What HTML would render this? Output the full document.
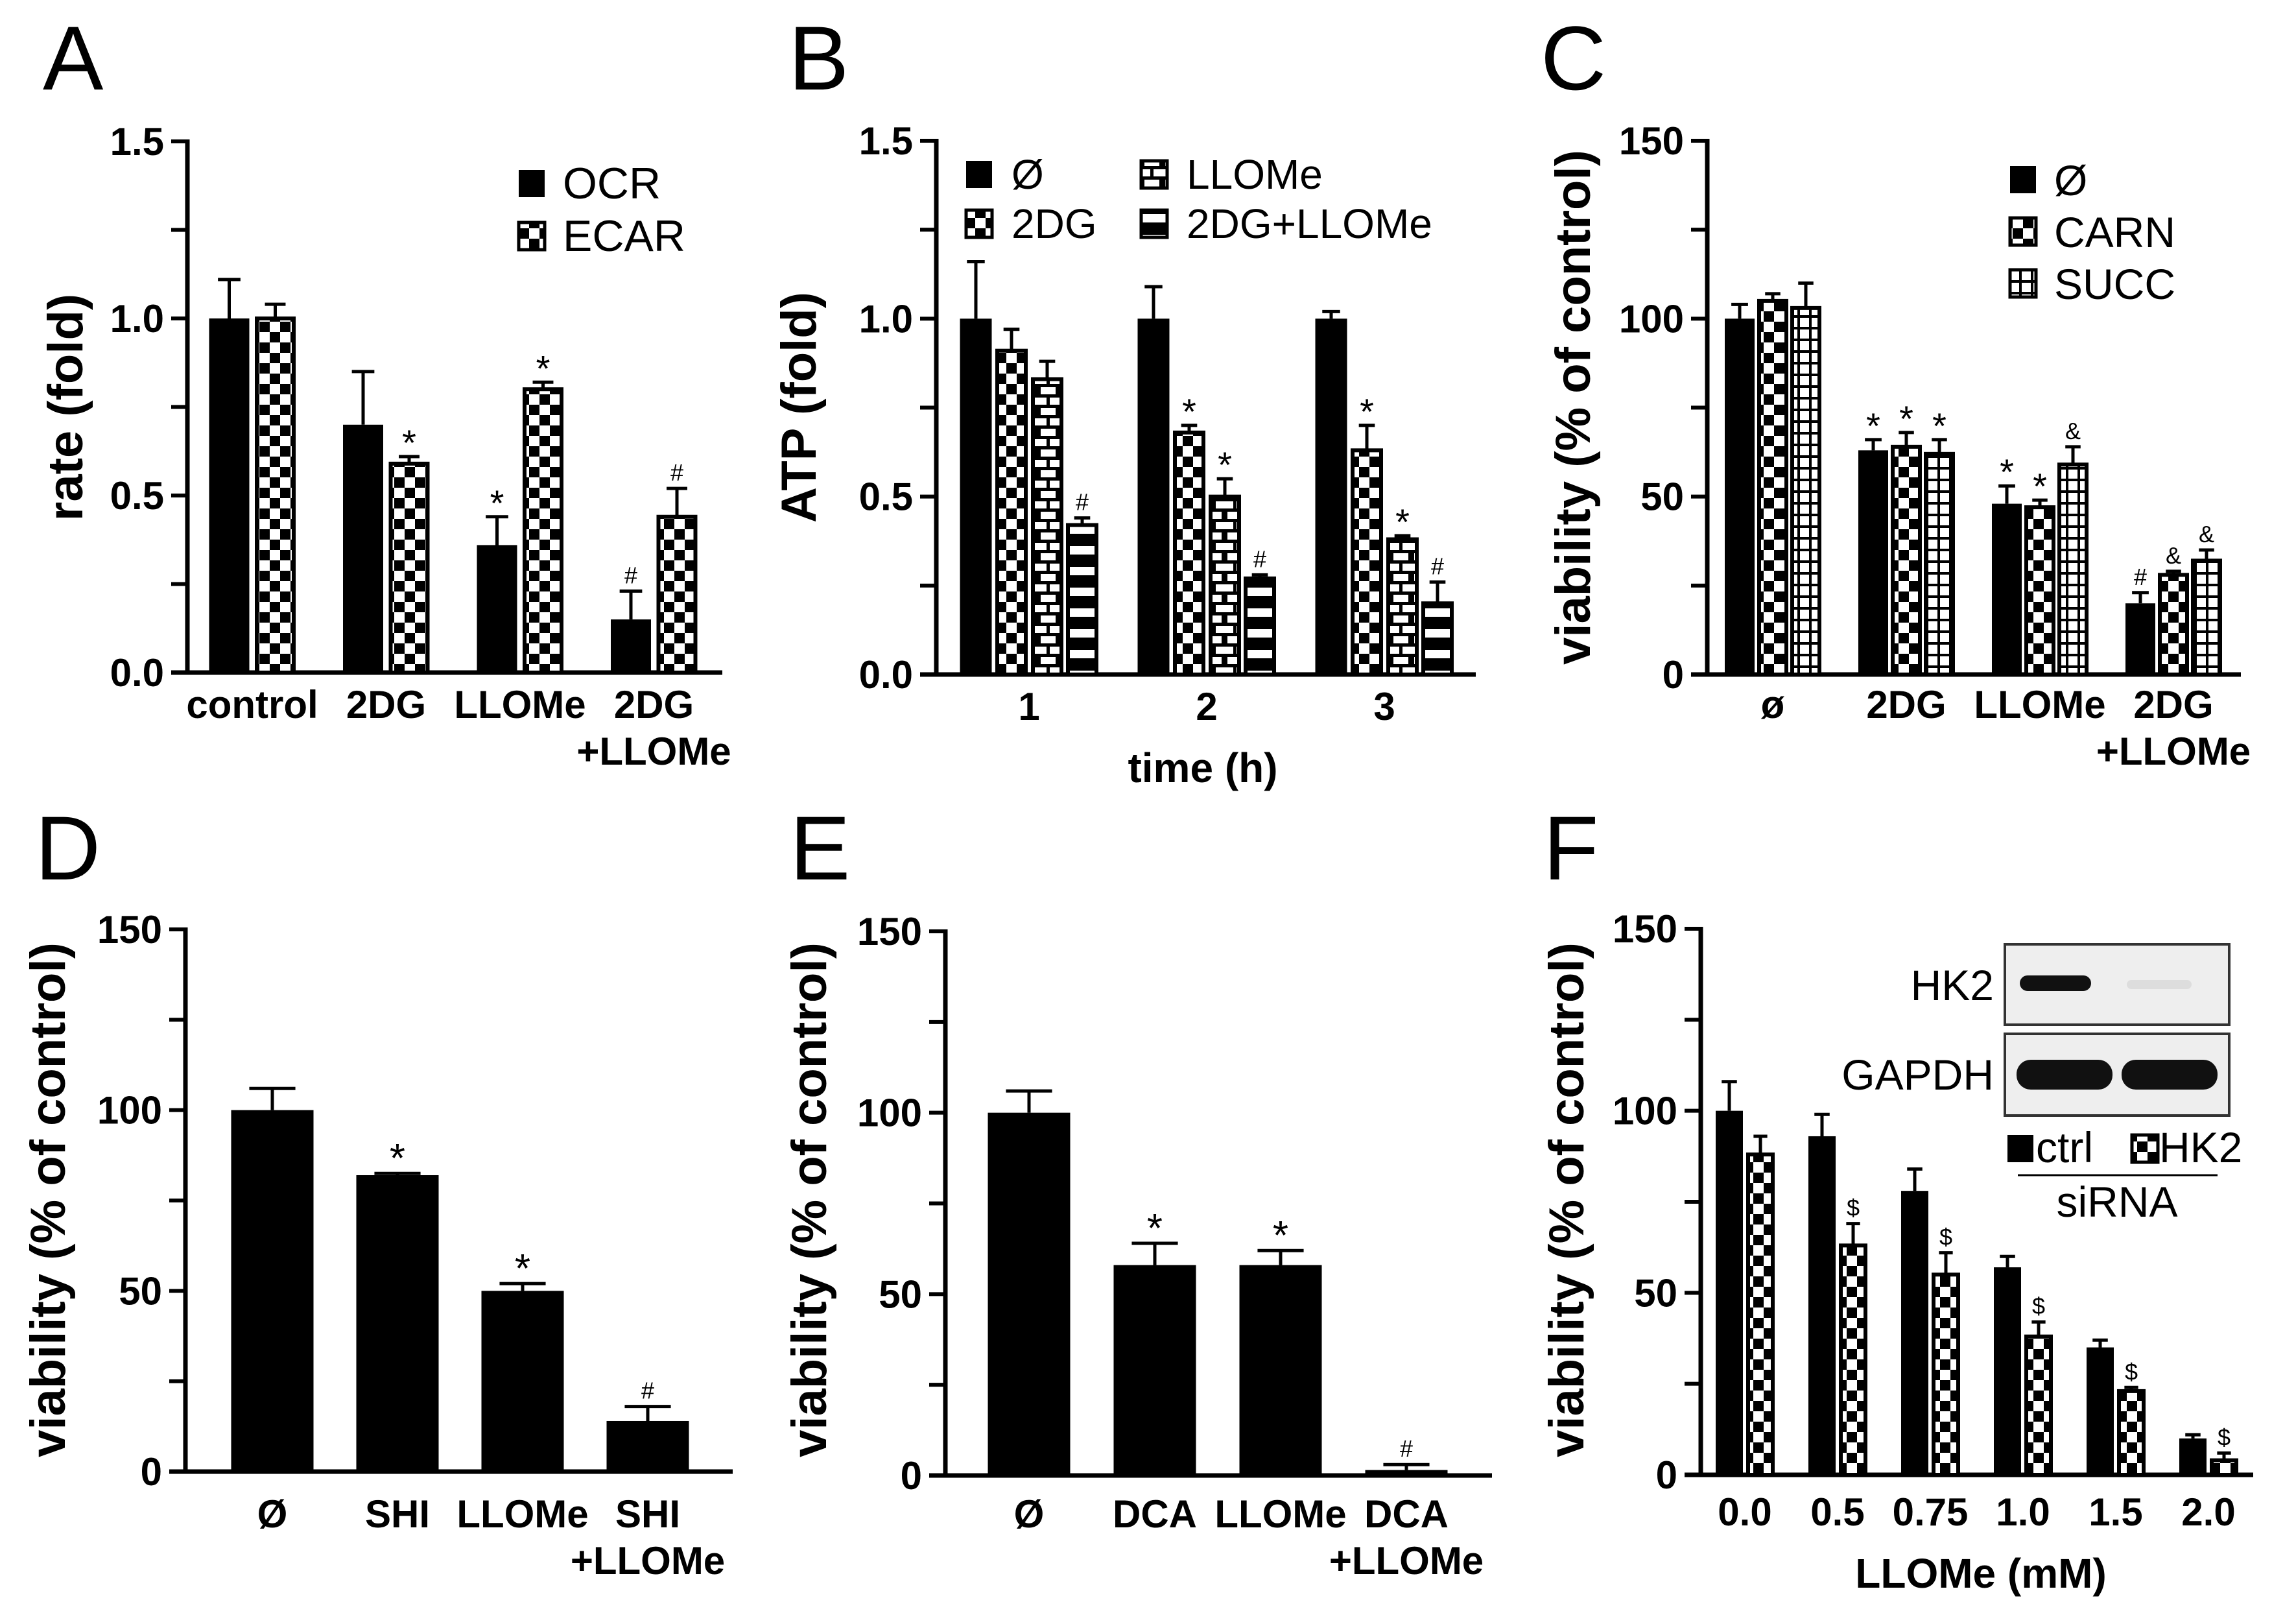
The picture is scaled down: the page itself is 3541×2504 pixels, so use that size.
<!DOCTYPE html>
<html><head><meta charset="utf-8"><style>
html,body{margin:0;padding:0;background:#fff}
svg{display:block}
text{font-family:"Liberation Sans",Arial,sans-serif}
</style></head><body>
<svg id="fig" width="3541" height="2504" viewBox="0 0 3541 2504" xmlns="http://www.w3.org/2000/svg">
<defs>
<pattern id="pCheck" patternUnits="userSpaceOnUse" width="32" height="32"><rect width="32" height="32" fill="#fff"/><rect width="16" height="16" fill="#000"/><rect x="16" y="16" width="16" height="16" fill="#000"/></pattern>
<pattern id="pBrick" patternUnits="userSpaceOnUse" width="32" height="32"><rect width="32" height="32" fill="#fff"/><rect y="0" width="32" height="5" fill="#000"/><rect y="16" width="32" height="5" fill="#000"/><rect x="14" y="0" width="5" height="16" fill="#000"/><rect x="0" y="16" width="5" height="16" fill="#000"/><rect x="28" y="16" width="4" height="16" fill="#000"/></pattern>
<pattern id="pStripe" patternUnits="userSpaceOnUse" width="32" height="32"><rect width="32" height="32" fill="#000"/><rect x="0" y="10" width="32" height="13" fill="#fff"/></pattern>
<pattern id="pGrid" patternUnits="userSpaceOnUse" width="18" height="18"><rect width="18" height="18" fill="#fff"/><rect width="18" height="4" fill="#000"/><rect width="4" height="18" fill="#000"/></pattern>
</defs>
<g id="root"></g>
</svg>
<script>
// ---------- Panel A data ----------
const aCats = ["control","2DG","LLOMe","2DG\n+LLOMe"];
const aOCR = [1.0,0.70,0.36,0.15];
const aOCRerr = [1.11,0.85,0.44,0.23];
const aECAR = [1.0,0.59,0.80,0.44];
const aECARerr = [1.04,0.61,0.82,0.52];
const aOCRann = ["","","*","#"];
const aECARann = ["","*","*","#"];
const aTicks = ["0.0","0.5","1.0","1.5"];
// ---------- Panel B data ----------
const bCats = ["1","2","3"];
const bNone = [1.0,1.0,1.0];
const bNoneErr = [1.16,1.09,1.02];
const b2DG = [0.91,0.68,0.63];
const b2DGerr = [0.97,0.70,0.70];
const bLLOMe = [0.83,0.50,0.38];
const bLLOMeErr = [0.88,0.55,0.39];
const bCombo = [0.42,0.27,0.20];
const bComboErr = [0.44,0.28,0.26];
const b2DGann = ["","*","*"];
const bLLOMeAnn = ["","*","*"];
const bComboAnn = ["#","#","#"];
const bTicks = ["0.0","0.5","1.0","1.5"];
// ---------- Panel C data ----------
const cCats = ["ø","2DG","LLOMe","2DG\n+LLOMe"];
const cNone = [100,63,48,20];
const cNoneErr = [104,66,53,23];
const cCARN = [105,64,47,28];
const cCARNerr = [107,68,49,29];
const cSUCC = [103,62,59,32];
const cSUCCerr = [110,66,64,35];
const cNoneAnn = ["","*","*","#"];
const cCARNann = ["","*","*","&"];
const cSUCCann = ["","*","&","&"];
const cTicks = ["0","50","100","150"];
// ---------- Panel D data ----------
const dCats = ["Ø","SHI","LLOMe","SHI\n+LLOMe"];
const dVals = [100,82,50,14];
const dErr = [106,82.5,52,18];
const dAnn = ["","*","*","#"];
// ---------- Panel E data ----------
const eCats = ["Ø","DCA","LLOMe","DCA\n+LLOMe"];
const eVals = [100,58,58,1.5];
const eErr = [106,64,62,3];
const eAnn = ["","*","*","#"];
// ---------- Panel F data ----------
const fCats = ["0.0","0.5","0.75","1.0","1.5","2.0"];
const fCtrl = [100,93,78,57,35,10];
const fCtrlErr = [108,99,84,60,37,11];
const fHK2 = [88,63,55,38,23,4];
const fHK2err = [93,69,61,42,24,6];
const fHK2ann = ["","$","$","$","$","$"];
const vTicks = ["0","50","100","150"];

const NS="http://www.w3.org/2000/svg";
const root=document.getElementById('root');
function mk(tag,attrs,parent){const e=document.createElementNS(NS,tag);for(const k in attrs)e.setAttribute(k,attrs[k]);(parent||root).appendChild(e);return e;}
function txt(s,x,y,size,opts,parent){opts=opts||{};const t=mk('text',{x:x,y:y,'font-size':size,'font-weight':opts.bold?'bold':'normal','text-anchor':opts.anchor||'middle',fill:opts.fill||'#000'},parent);if(opts.rot)t.setAttribute('transform','rotate(-90 '+x+' '+y+')');t.textContent=s;return t;}

function axes(g,P,ticks){
  const sy=v=>P.y0-(v/P.max)*(P.y0-P.y1);
  const ax=mk('line',{x1:P.ax,y1:P.y1-3,x2:P.ax,y2:P.y0+3,stroke:'#000','stroke-width':7},g);
  
  const xa=mk('line',{x1:P.ax-25,y1:P.y0,x2:P.xend,y2:P.y0,stroke:'#000','stroke-width':7},g);
  
  const n=ticks.length-1;
  for(let i=0;i<=n*2;i++){
    const v=P.max*i/(n*2);const y=sy(v);
    const tk=mk('line',{x1:P.ax-25,y1:y,x2:P.ax,y2:y,stroke:'#000','stroke-width':6},g);
    
    if(i%2===0){const t=txt(ticks[i/2],P.ax-36,y+21,60,{bold:true,anchor:'end'},g);
      }
  }
  return sy;
}
function bars(g,P,sy,vals,errs,anns,fill,off,w,centers,name){
  vals.forEach((v,i)=>{
    const x=centers[i]+off-w/2;const y=sy(v);
    const r=mk('rect',{x:x,y:y,width:w,height:P.y0-y,fill:fill,stroke:'#000','stroke-width':fill==='#000'?0:6},g);
    
    const ey=sy(errs[i]);const cx=centers[i]+off;
    const e=mk('path',{d:'M'+cx+' '+y+'V'+ey+'M'+(cx-w*0.28)+' '+ey+'H'+(cx+w*0.28),stroke:'#000','stroke-width':5,fill:'none'},g);
    
    if(anns&&anns[i]){const big=anns[i]==='*';const a=txt(anns[i],cx,ey-(big?2:12),big?(w>80?62:56):36,{},g);
      }
  });
}
function xlabels(g,cats,centers,y,size){
  cats.forEach((c,i)=>{c.split('\n').forEach((ln,j)=>{const t=txt(ln,centers[i],y+j*72,size,{bold:true},g);
    });});
}
function swatch(g,x,y,fill,name){const r=mk('rect',{x:x,y:y,width:40,height:42,fill:fill,stroke:'#000','stroke-width':fill==='#000'?0:5},g);
  }
function panelLetter(s,x,y){const t=txt(s,x,y,140,{anchor:'start'});}
function ytitle(g,s,x,y){const t=txt(s,x,y,76,{bold:true,rot:true},g);}
function grp(name){const g=mk('g',{});return g;}
function centersFrom(c0,sp,n){return Array.from({length:n},(_,i)=>c0+sp*i);}

// Panel A
(function(){
  const g=grp('panel-a');panelLetter('A',66,138);
  const P={ax:289,y0:1037,y1:218,max:1.5,xend:1114};
  const sy=axes(g,P,aTicks);const C=centersFrom(389,206.5,aCats.length);
  bars(g,P,sy,aOCR,aOCRerr,aOCRann,'#000',-35.5,62,C,'ocr');
  bars(g,P,sy,aECAR,aECARerr,aECARann,'url(#pCheck)',35.5,57,C,'ecar');
  xlabels(g,aCats,C,1107,60);ytitle(g,'rate (fold)',127,628);
  swatch(g,800,262,'#000','legend-ocr-swatch');const t1=txt('OCR',868,306,68,{anchor:'start'},g);
  swatch(g,800,343,'url(#pCheck)','legend-ecar-swatch');const t2=txt('ECAR',868,387,68,{anchor:'start'},g);
})();
// Panel B
(function(){
  const g=grp('panel-b');panelLetter('B',1216,138);
  const P={ax:1444,y0:1040,y1:217,max:1.5,xend:2276};
  const sy=axes(g,P,bTicks);const C=centersFrom(1587,274,bCats.length);
  bars(g,P,sy,bNone,bNoneErr,null,'#000',-82,49,C,'none');
  bars(g,P,sy,b2DG,b2DGerr,b2DGann,'url(#pCheck)',-27,44,C,'2dg');
  bars(g,P,sy,bLLOMe,bLLOMeErr,bLLOMeAnn,'url(#pBrick)',28,44,C,'llome');
  bars(g,P,sy,bCombo,bComboErr,bComboAnn,'url(#pStripe)',82,44,C,'2dg-llome');
  xlabels(g,bCats,C,1110,60);
  const xt=txt('time (h)',1855,1206,64,{bold:true},g);
  ytitle(g,'ATP (fold)',1258,628);
  const L=[['#000',1490,0,'Ø'],['url(#pCheck)',1490,1,'2DG'],['url(#pBrick)',1760,0,'LLOMe'],['url(#pStripe)',1760,1,'2DG+LLOMe']];
  L.forEach((l)=>{swatch(g,l[1],248+l[2]*76,l[0],'legend-swatch');const t=txt(l[3],l[1]+70,291+l[2]*76,64,{anchor:'start'},g);});
})();
// Panel C
(function(){
  const g=grp('panel-c');panelLetter('C',2376,138);
  const P={ax:2633,y0:1040,y1:217,max:150,xend:3456};
  const sy=axes(g,P,cTicks);const C=centersFrom(2734,206,cCats.length);
  bars(g,P,sy,cNone,cNoneErr,cNoneAnn,'#000',-51,46,C,'none');
  bars(g,P,sy,cCARN,cCARNerr,cCARNann,'url(#pCheck)',0,42,C,'carn');
  bars(g,P,sy,cSUCC,cSUCCerr,cSUCCann,'url(#pGrid)',51,42,C,'succ');
  xlabels(g,cCats,C,1107,60);ytitle(g,'viability (% of control)',2452,628);
  [['#000','Ø'],['url(#pCheck)','CARN'],['url(#pGrid)','SUCC']].forEach((l,i)=>{swatch(g,3100,256+i*80,l[0],'legend-swatch');const t=txt(l[1],3168,301+i*80,66,{anchor:'start'},g);});
})();
// Panel D
(function(){
  const g=grp('panel-d');panelLetter('D',54,1356);
  const P={ax:286,y0:2269,y1:1433,max:150,xend:1130};
  const sy=axes(g,P,vTicks);const C=centersFrom(420,193,dCats.length);
  bars(g,P,sy,dVals,dErr,dAnn,'#000',0,127,C,'viability');
  xlabels(g,dCats,C,2355,60);ytitle(g,'viability (% of control)',100,1850);
})();
// Panel E
(function(){
  const g=grp('panel-e');panelLetter('E',1218,1356);
  const P={ax:1458,y0:2275,y1:1436,max:150,xend:2301};
  const sy=axes(g,P,vTicks);const C=centersFrom(1587,194,eCats.length);
  bars(g,P,sy,eVals,eErr,eAnn,'#000',0,127,C,'viability');
  xlabels(g,eCats,C,2355,60);ytitle(g,'viability (% of control)',1274,1850);
})();
// Panel F
(function(){
  const g=grp('panel-f');panelLetter('F',2380,1356);
  const P={ax:2623,y0:2274,y1:1432,max:150,xend:3475};
  const sy=axes(g,P,vTicks);const C=centersFrom(2691,143,fCats.length);
  bars(g,P,sy,fCtrl,fCtrlErr,null,'#000',-24,42,C,'ctrl-sirna');
  bars(g,P,sy,fHK2,fHK2err,fHK2ann,'url(#pCheck)',24,38,C,'hk2-sirna');
  xlabels(g,fCats,C,2352,60);
  const xt=txt('LLOMe (mM)',3055,2448,64,{bold:true},g);
  ytitle(g,'viability (% of control)',2442,1850);
  const b1=mk('rect',{x:3092,y:1456,width:346,height:124,fill:'#eee',stroke:'#333','stroke-width':4},g);
  mk('rect',{x:3115,y:1504,width:110,height:24,rx:12,fill:'#111'},g);
  mk('rect',{x:3280,y:1511,width:100,height:14,rx:7,fill:'#ddd'},g);
  const b2=mk('rect',{x:3092,y:1594,width:346,height:126,fill:'#eee',stroke:'#333','stroke-width':4},g);
  mk('rect',{x:3110,y:1634,width:148,height:46,rx:22,fill:'#111'},g);
  mk('rect',{x:3272,y:1634,width:148,height:46,rx:22,fill:'#111'},g);
  const l1=txt('HK2',3075,1542,66,{anchor:'end'},g);
  const l2=txt('GAPDH',3075,1680,66,{anchor:'end'},g);
  swatch(g,3096,1750,'#000','legend-ctrl-swatch');const t1=txt('ctrl',3140,1792,66,{anchor:'start'},g);
  swatch(g,3288,1750,'url(#pCheck)','legend-hk2-swatch');const t2=txt('HK2',3330,1792,66,{anchor:'start'},g);
  const ln=mk('line',{x1:3112,y1:1812,x2:3420,y2:1812,stroke:'#000','stroke-width':3},g);
  const t3=txt('siRNA',3265,1876,66,{},g);
})();
</script>
</body></html>
